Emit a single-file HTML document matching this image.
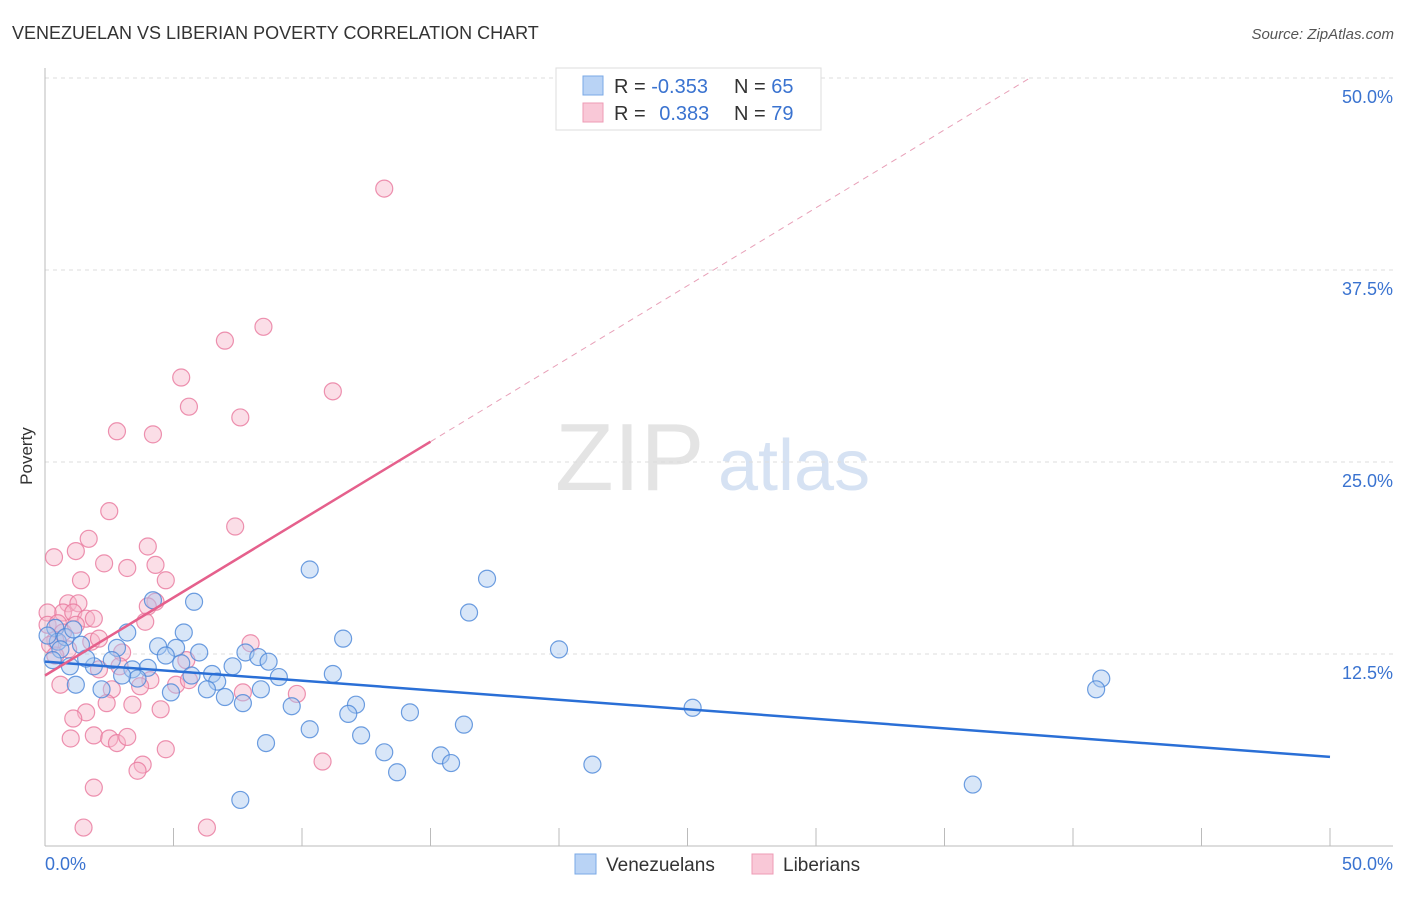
<!DOCTYPE html>
<html><head><meta charset="utf-8"><style>
body{margin:0;background:#fff;font-family:"Liberation Sans",sans-serif}
svg text{font-family:"Liberation Sans",sans-serif}
</style></head><body>
<svg id="c" width="1406" height="892">
<text x="12" y="39" font-size="18" fill="#333">VENEZUELAN VS LIBERIAN POVERTY CORRELATION CHART</text>
<text x="1394" y="39" font-size="15" fill="#555" font-style="italic" text-anchor="end">Source: ZipAtlas.com</text>
<text x="32" y="456" font-size="17" fill="#333" transform="rotate(-90 32 456)" text-anchor="middle">Poverty</text>
<g><text x="555" y="490" font-size="96" fill="#e4e4e4" font-family="Liberation Serif">ZIP</text><text x="718" y="490" font-size="72" fill="#d6e2f3">atlas</text></g>
<g id="grid"></g><g id="axes"></g><g id="pts"></g><g id="lines"></g>
<g>
<rect x="556" y="68" width="265" height="62" fill="#fff" stroke="#ddd"/>
<rect x="583" y="76" width="20" height="19" fill="#b9d3f5" stroke="#7aa8e6"/>
<rect x="583" y="103" width="20" height="19" fill="#f9c8d7" stroke="#ee9bb5"/>
<text x="614" y="93" font-size="20" fill="#333">R = <tspan fill="#3a73d0">-0.353</tspan></text>
<text x="734" y="93" font-size="20" fill="#333">N = <tspan fill="#3a73d0">65</tspan></text>
<text x="614" y="120" font-size="20" fill="#333">R = <tspan fill="#3a73d0" dx="8">0.383</tspan></text>
<text x="734" y="120" font-size="20" fill="#333">N = <tspan fill="#3a73d0">79</tspan></text>
</g>
<g>
<rect x="575" y="854" width="21" height="20" fill="#b9d3f5" stroke="#7aa8e6"/>
<text x="606" y="871" font-size="19" fill="#333">Venezuelans</text>
<rect x="752" y="854" width="21" height="20" fill="#f9c8d7" stroke="#ee9bb5"/>
<text x="783" y="871" font-size="19" fill="#333">Liberians</text>
</g>
</svg>
<script>
const yTicks=[12.5,25,37.5,50];
const yTickLabels=["12.5%","25.0%","37.5%","50.0%"];
const xTickLabels=["0.0%","50.0%"];
const blueX=[10.3,17.2,16.5,5.8,4.2,3.2,5.4,11.6,20.0,4.4,5.1,6.0,7.8,8.3,8.7,2.8,2.6,1.9,0.97,3.4,4.0,4.7,5.3,5.7,6.5,6.7,7.3,9.1,11.2,3.6,3.0,2.2,1.2,4.9,6.3,7.0,7.7,8.4,9.6,12.1,11.8,14.2,10.3,12.3,16.3,8.6,13.2,15.4,15.8,13.7,21.3,25.2,41.1,40.9,36.1,7.6,0.4,0.5,0.8,0.6,0.3,0.1,1.4,1.6,1.1];
const blueY=[18.0,17.4,15.2,15.9,16.0,13.9,13.9,13.5,12.8,13.0,12.9,12.6,12.6,12.3,12.0,12.9,12.1,11.7,11.7,11.5,11.6,12.4,11.9,11.1,11.2,10.7,11.7,11.0,11.2,10.9,11.1,10.2,10.5,10.0,10.2,9.7,9.3,10.2,9.1,9.2,8.6,8.7,7.6,7.2,7.9,6.7,6.1,5.9,5.4,4.8,5.3,9.0,10.9,10.2,4.0,3.0,14.2,13.3,13.6,12.8,12.1,13.7,13.1,12.2,14.1];
const pinkX=[13.2,8.5,7.0,5.3,11.2,5.6,7.6,2.8,4.2,2.5,7.4,1.7,4.0,0.35,1.2,4.3,2.3,3.2,4.7,1.4,4.3,4.0,0.9,1.3,0.7,1.1,1.6,1.9,3.9,0.1,0.1,0.5,0.7,1.2,1.8,2.1,8.0,3.0,5.5,2.9,2.1,4.1,5.1,5.6,3.7,2.6,0.6,7.7,9.8,2.4,3.4,4.5,1.6,1.1,1.0,1.9,2.5,2.8,3.2,4.7,3.8,3.6,10.8,1.9,1.5,6.3,0.4,0.2,0.9,0.4];
const pinkY=[42.8,33.8,32.9,30.5,29.6,28.6,27.9,27.0,26.8,21.8,20.8,20.0,19.5,18.8,19.2,18.3,18.4,18.1,17.3,17.3,15.9,15.6,15.8,15.8,15.2,15.2,14.8,14.8,14.6,15.2,14.4,14.5,13.9,14.4,13.3,13.5,13.2,12.6,12.1,11.7,11.5,10.8,10.5,10.8,10.4,10.2,10.5,10.0,9.9,9.3,9.2,8.9,8.7,8.3,7.0,7.2,7.0,6.7,7.1,6.3,5.3,4.9,5.5,3.8,1.2,1.2,13.4,13.1,12.8,12.4];
const blueTrend=[12.0,5.8];
const pinkTrend=[11.1,1.015];
const X0=45,X1=1330,Y0=846,PXY=15.36;
const sx=v=>X0+v*(X1-X0)/50, sy=v=>Y0-v*PXY;
const NS="http://www.w3.org/2000/svg";
function mk(t,a,p){const e=document.createElementNS(NS,t);for(const k in a)e.setAttribute(k,a[k]);p.appendChild(e);return e;}
const grid=document.getElementById('grid'),axes=document.getElementById('axes'),pts=document.getElementById('pts'),lines=document.getElementById('lines');
yTicks.forEach((v,i)=>{
 const l=mk('line',{x1:X0,x2:1393,y1:sy(v),y2:sy(v),stroke:'#ddd','stroke-dasharray':'4,4'},grid);
 
 
 const t=mk('text',{x:1393,y:sy(v)+25,'font-size':18,fill:'#3a73d0','text-anchor':'end'},grid);
 t.textContent=yTickLabels[i];
 
 
});
const ax=mk('line',{x1:X0,x2:X0,y1:68,y2:Y0,stroke:'#bbb'},axes);


const bx=mk('line',{x1:X0,x2:1393,y1:Y0,y2:Y0,stroke:'#bbb'},axes);


for(let v=5;v<=50;v+=5){const t=mk('line',{x1:sx(v),x2:sx(v),y1:Y0-18,y2:Y0,stroke:'#bbb'},axes);
 
 }
[[0,'start'],[50,'end']].forEach((d,i)=>{const t=mk('text',{x:i?1393:45,y:870,'font-size':18,fill:'#3a73d0','text-anchor':d[1]},axes);t.textContent=xTickLabels[i];
 
 });
function dots(xs,ys,f,s,name){xs.forEach((x,i)=>{const c=mk('circle',{cx:sx(x),cy:sy(ys[i]),r:8.5,fill:f,'fill-opacity':0.45,stroke:s,'stroke-width':1.2,'stroke-opacity':0.8},pts);
 
 });}
dots(pinkX,pinkY,'#f7b6ca','#e8779c','liberian-point');
dots(blueX,blueY,'#a9c8f0','#4a86d8','venezuelan-point');
const bl=mk('line',{x1:sx(0),y1:sy(blueTrend[0]),x2:sx(50),y2:sy(blueTrend[1]),stroke:'#2a6fd6','stroke-width':2.5},lines);


const pe=(50-pinkTrend[0])/pinkTrend[1];
const pd=mk('line',{x1:sx(15),y1:sy(pinkTrend[0]+pinkTrend[1]*15),x2:sx(pe),y2:sy(50),stroke:'#e8a0b8','stroke-width':1,'stroke-dasharray':'6,5'},lines);


const pl=mk('line',{x1:sx(0),y1:sy(pinkTrend[0]),x2:sx(15),y2:sy(pinkTrend[0]+pinkTrend[1]*15),stroke:'#e5608c','stroke-width':2.5},lines);


</script>
</body></html>
